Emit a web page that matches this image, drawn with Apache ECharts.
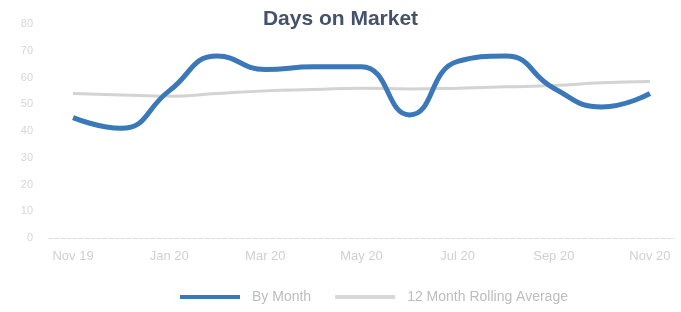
<!DOCTYPE html>
<html>
<head>
<meta charset="utf-8">
<script src="https://cdn.jsdelivr.net/npm/echarts@6/dist/echarts.min.js"></script>
<style>
  html, body { margin: 0; padding: 0; background: #fff; }
  #main { width: 681px; height: 312px; }
</style>
</head>
<body>
<div id="main"></div>
<script>
// months Nov 19 .. Nov 20
var months = ["Nov 19", "Dec 19", "Jan 20", "Feb 20", "Mar 20", "Apr 20", "May 20",
              "Jun 20", "Jul 20", "Aug 20", "Sep 20", "Oct 20", "Nov 20"];
var byMonth = [45, 41, 55, 68, 63, 64, 64, 46, 66, 68, 56, 49, 54];
var rollingAvg = [54, 53.5, 53, 54, 55, 55.5, 56, 55.7, 56, 56.5, 57, 58, 58.5];
var yTicks = [0, 10, 20, 30, 40, 50, 60, 70, 80];

var chart = echarts.init(document.getElementById("main"));
var option = {
  animation: false,
  title: {
    text: "Days on Market",
    left: "center",
    top: 4,
    textStyle: { fontFamily: "Liberation Sans", fontSize: 21, fontWeight: "bold", color: "#44536a" }
  },
  legend: {
    bottom: 3,
    left: 175,
    itemGap: 24,
    itemWidth: 60,
    itemHeight: 4,
    icon: "rect",
    data: ["By Month", "12 Month Rolling Average"],
    textStyle: { fontFamily: "Liberation Sans", fontSize: 14, color: "#bdbdbd", padding: [0, 0, 0, 7] }
  },
  grid: { left: 49, right: 7, top: 24, bottom: 74 },
  xAxis: {
    type: "category",
    data: months,
    boundaryGap: true,
    axisTick: { show: false },
    axisLine: { lineStyle: { color: "#dcdcdc", type: "dashed", width: 1 } },
    axisLabel: {
      interval: 1,
      margin: 12,
      fontFamily: "Liberation Sans",
      fontSize: 13,
      color: "#d0d0d0"
    }
  },
  yAxis: {
    type: "value",
    min: yTicks[0],
    max: yTicks[yTicks.length - 1],
    interval: 10,
    splitLine: { show: false },
    axisLine: { show: false },
    axisTick: { show: false },
    axisLabel: { margin: 16, fontFamily: "Liberation Sans", fontSize: 11, color: "#d6d6d6" }
  },
  series: [
    {
      name: "By Month",
      type: "line",
      smooth: 0.5,
      symbol: "none",
      data: byMonth,
      z: 3,
      lineStyle: { width: 5, color: "#3b78b9" },
      itemStyle: { color: "#3b78b9" }
    },
    {
      name: "12 Month Rolling Average",
      type: "line",
      smooth: true,
      symbol: "none",
      data: rollingAvg,
      z: 2,
      lineStyle: { width: 3, color: "#d3d3d3" },
      itemStyle: { color: "#d8d8d8" }
    }
  ]
};
chart.setOption(option);
</script>
</body>
</html>
